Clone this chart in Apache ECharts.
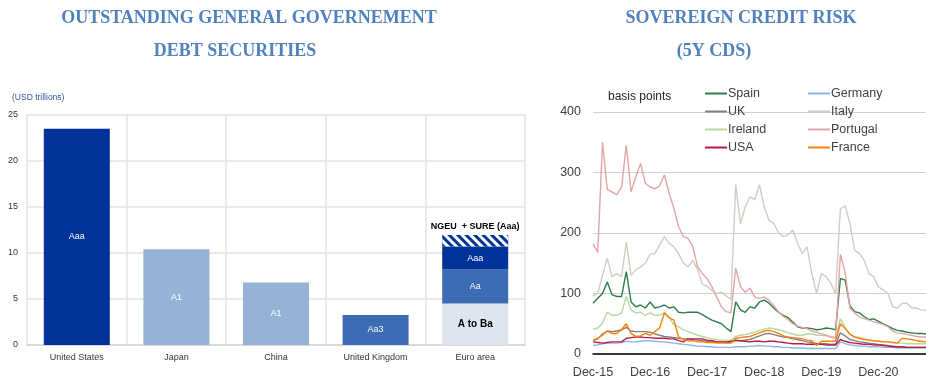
<!DOCTYPE html>
<html>
<head>
<meta charset="utf-8">
<script src="https://cdn.jsdelivr.net/npm/echarts@6/dist/echarts.min.js"></script>
<style>
  html, body { margin: 0; padding: 0; background: #fff; }
  #chart { width: 926px; height: 381px; }
</style>
</head>
<body>
<div id="chart"></div>
<script>
// --- Left panel: outstanding debt securities (USD trillions) ---
const debtCountries = ["United States", "Japan", "China", "United Kingdom", "Euro area"];
const debtBase = [23.5, 10.4, 6.8, 3.26, 4.5];
const baseRatings = ["Aaa", "A1", "A1", "Aa3", "A to Ba"];
const euroAa = [null, null, null, null, 3.7];
const euroAaa = [null, null, null, null, 2.5];
const euroNgeu = [null, null, null, null, 1.25];

// --- Right panel: 5Y CDS, basis points, monthly from Dec-15 ---
const spain = [84,92,100,119,98,95,95,136,86,78,81,76,86,76,78,81,76,78,69,68,69,69,69,65,60,56,53,50,43,37,86,73,69,78,76,86,89,84,76,69,64,60,53,45,43,43,42,40,41,43,42,40,125,122,80,70,68,62,57,58,54,50,46,42,39,38,36,35,34,34,33];
const germany = [14,15,17,18,18,18,19,21,20,20,21,22,22,21,20,20,19,18,17,16,15,14,13,13,12,12,11,11,11,11,12,12,12,13,13,14,13,13,12,12,11,11,10,10,10,9,9,9,9,9,9,9,20,17,15,14,13,13,12,12,12,11,11,11,10,10,10,10,10,10,10];
const uk = [22,25,33,38,37,38,40,44,38,37,37,37,36,33,31,29,28,27,26,25,25,24,23,22,21,21,20,20,19,19,22,22,23,24,27,30,33,34,32,30,28,27,25,24,22,20,19,17,17,17,16,16,35,30,24,22,20,19,18,17,16,15,14,13,12,12,11,11,11,11,11];
const italy = [96,100,130,158,128,133,128,185,130,139,144,150,165,166,180,194,183,177,166,150,144,155,139,115,112,105,100,102,96,90,280,215,243,260,255,280,243,221,216,200,194,197,205,183,166,177,133,100,133,128,117,100,240,245,216,172,166,155,133,128,111,106,100,78,76,84,84,76,76,73,72];
const ireland = [41,43,51,69,64,64,68,95,73,68,69,64,68,64,64,68,61,48,45,40,37,34,31,29,27,25,24,23,23,23,29,31,32,34,36,39,41,43,42,40,38,35,33,31,31,33,33,31,31,30,29,27,58,44,32,29,27,25,23,22,21,20,20,19,18,18,17,17,17,17,17];
const portugal = [182,168,350,272,268,263,276,345,268,293,315,282,276,273,278,296,266,241,210,194,191,177,144,133,124,111,94,78,70,68,142,111,102,109,94,92,94,89,80,70,62,57,50,46,44,42,38,36,33,31,28,26,165,135,76,68,61,59,56,53,51,49,45,38,35,34,32,31,29,28,28];
const usa = [20,19,18,19,20,20,20,26,27,28,28,27,27,26,26,26,25,25,22,20,25,25,25,25,23,22,20,20,20,21,23,22,21,20,21,21,20,21,21,20,19,18,17,17,17,16,16,16,16,15,15,15,24,21,19,18,17,16,16,15,15,14,13,12,12,12,11,11,11,11,11];
const france = [23,26,31,38,34,34,40,50,34,29,30,34,31,37,43,68,60,56,28,24,22,22,20,20,19,19,18,18,18,18,26,27,28,29,32,35,38,39,37,34,30,28,27,26,25,23,22,14,21,21,21,21,50,42,33,28,26,24,23,22,21,20,20,19,18,26,25,24,22,21,20];

// month labels Dec-15 .. Oct-21
const monthNames = ["Jan","Feb","Mar","Apr","May","Jun","Jul","Aug","Sep","Oct","Nov","Dec"];
const months = [];
for (let i = 0; i < spain.length; i++) {
  const m = (11 + i) % 12;
  const y = 15 + Math.floor((11 + i) / 12);
  months.push(monthNames[m] + "-" + y);
}

const titleColor = "#4F81BD";
const serif = '"Liberation Serif", "DejaVu Serif", serif';
const sans = '"Liberation Sans", Arial, sans-serif';

const baseColors = ["#003299", "#95B3D7", "#95B3D7", "#3D6CB4", "#DEE5F0"];

const cdsSeries = [
  { name: "Spain", data: spain, color: "#2E7D46" },
  { name: "Germany", data: germany, color: "#8EB4E3" },
  { name: "UK", data: uk, color: "#808080" },
  { name: "Italy", data: italy, color: "#D3CBC3" },
  { name: "Ireland", data: ireland, color: "#B5DA9E" },
  { name: "Portugal", data: portugal, color: "#E3A5A5" },
  { name: "USA", data: usa, color: "#B81E45" },
  { name: "France", data: france, color: "#FF7F0E" },
];

const myChart = echarts.init(document.getElementById("chart"), null, { renderer: "canvas" });

const whiteLabel = { show: true, position: "inside", color: "#fff", fontSize: 9, fontFamily: sans };

const option = {
  backgroundColor: "#fff",
  animation: false,
  title: [
    { text: "OUTSTANDING GENERAL GOVERNEMENT", left: 244, top: 4, textAlign: "center",
      textStyle: { fontFamily: serif, fontSize: 18, fontWeight: "bold", color: titleColor } },
    { text: "DEBT SECURITIES", left: 230, top: 37, textAlign: "center",
      textStyle: { fontFamily: serif, fontSize: 18, fontWeight: "bold", color: titleColor } },
    { text: "SOVEREIGN CREDIT RISK", left: 736, top: 4, textAlign: "center",
      textStyle: { fontFamily: serif, fontSize: 18, fontWeight: "bold", color: titleColor } },
    { text: "(5Y CDS)", left: 709, top: 37, textAlign: "center",
      textStyle: { fontFamily: serif, fontSize: 18, fontWeight: "bold", color: titleColor } },
    { text: "(USD trillions)", left: 7, top: 88,
      textStyle: { fontFamily: sans, fontSize: 8.5, fontWeight: "normal", color: "#2F5597" } },
    { text: "basis points", left: 603, top: 86,
      textStyle: { fontFamily: sans, fontSize: 12, fontWeight: "normal", color: "#262626" } },
  ],
  legend: [
    { data: ["Spain", "UK", "Ireland", "USA"], orient: "vertical", left: 700, top: 82,
      itemWidth: 22, itemHeight: 2, itemGap: 5, icon: "rect",
      textStyle: { fontFamily: sans, fontSize: 12.5, color: "#404040", padding: [0, 0, 0, -4] } },
    { data: ["Germany", "Italy", "Portugal", "France"], orient: "vertical", left: 803, top: 82,
      itemWidth: 22, itemHeight: 2, itemGap: 5, icon: "rect",
      textStyle: { fontFamily: sans, fontSize: 12.5, color: "#404040", padding: [0, 0, 0, -4] } },
  ],
  grid: [
    { left: 27, top: 115, width: 498, height: 230 },
    { left: 593, top: 112, right: 0, height: 242 },
  ],
  xAxis: [
    {
      type: "category", gridIndex: 0, data: debtCountries,
      axisLine: { lineStyle: { color: "#d9d9d9", width: 2 } },
      axisTick: { show: false },
      splitLine: { show: true, lineStyle: { color: "#e3e3e3", width: 1.5 } },
      axisLabel: { fontFamily: sans, fontSize: 9, color: "#333", margin: 8 },
    },
    {
      type: "category", gridIndex: 1, data: months, boundaryGap: false,
      axisLine: { lineStyle: { color: "#000", width: 1.5 } },
      axisTick: { show: false },
      axisLabel: { interval: (i) => i % 12 === 0, fontFamily: sans, fontSize: 12.5, color: "#404040", margin: 12 },
    },
  ],
  yAxis: [
    {
      type: "value", gridIndex: 0, min: 0, max: 25, interval: 5,
      axisLine: { show: false }, axisTick: { show: false },
      splitLine: { lineStyle: { color: "#e3e3e3", width: 1.5 } },
      axisLabel: { fontFamily: sans, fontSize: 9, color: "#333", margin: 9 },
    },
    {
      type: "value", gridIndex: 1, min: 0, max: 400, interval: 100,
      axisLine: { show: false }, axisTick: { show: false },
      splitLine: { lineStyle: { color: "#d0d0d0", width: 1 } },
      axisLabel: { fontFamily: sans, fontSize: 12.5, color: "#404040", margin: 12 },
    },
  ],
  series: [
    {
      name: "base", type: "bar", stack: "debt", xAxisIndex: 0, yAxisIndex: 0, barWidth: 66,
      data: debtBase.map((v, i) => ({
        value: v,
        itemStyle: { color: baseColors[i] },
        label: i === 4
          ? { show: true, position: "inside", color: "#000", fontSize: 10, fontWeight: "bold", fontFamily: sans, formatter: baseRatings[i] }
          : Object.assign({}, whiteLabel, { formatter: baseRatings[i] }),
      })),
    },
    {
      name: "Aa", type: "bar", stack: "debt", xAxisIndex: 0, yAxisIndex: 0, barWidth: 66,
      itemStyle: { color: "#3D6CB4" },
      label: Object.assign({}, whiteLabel, { formatter: "Aa" }),
      data: euroAa,
    },
    {
      name: "Aaa", type: "bar", stack: "debt", xAxisIndex: 0, yAxisIndex: 0, barWidth: 66,
      itemStyle: { color: "#003299" },
      label: Object.assign({}, whiteLabel, { formatter: "Aaa" }),
      data: euroAaa,
    },
    {
      name: "NGEU", type: "bar", stack: "debt", xAxisIndex: 0, yAxisIndex: 0, barWidth: 66,
      itemStyle: {
        color: "#003299",
        decal: { symbol: "rect", symbolSize: 1, dashArrayX: [1, 0], dashArrayY: [3, 3], rotation: Math.PI / 4, color: "#ffffff" },
      },
      label: { show: true, position: "top", distance: 4, color: "#000", fontSize: 9, fontWeight: "bold", fontFamily: sans, formatter: "NGEU  + SURE (Aaa)" },
      data: euroNgeu,
    },
  ].concat(cdsSeries.map((s) => ({
    name: s.name, type: "line", xAxisIndex: 1, yAxisIndex: 1,
    data: s.data, symbol: "none", color: s.color,
    lineStyle: { color: s.color, width: 1.4 },
  }))),
};

myChart.setOption(option);
</script>
</body>
</html>
